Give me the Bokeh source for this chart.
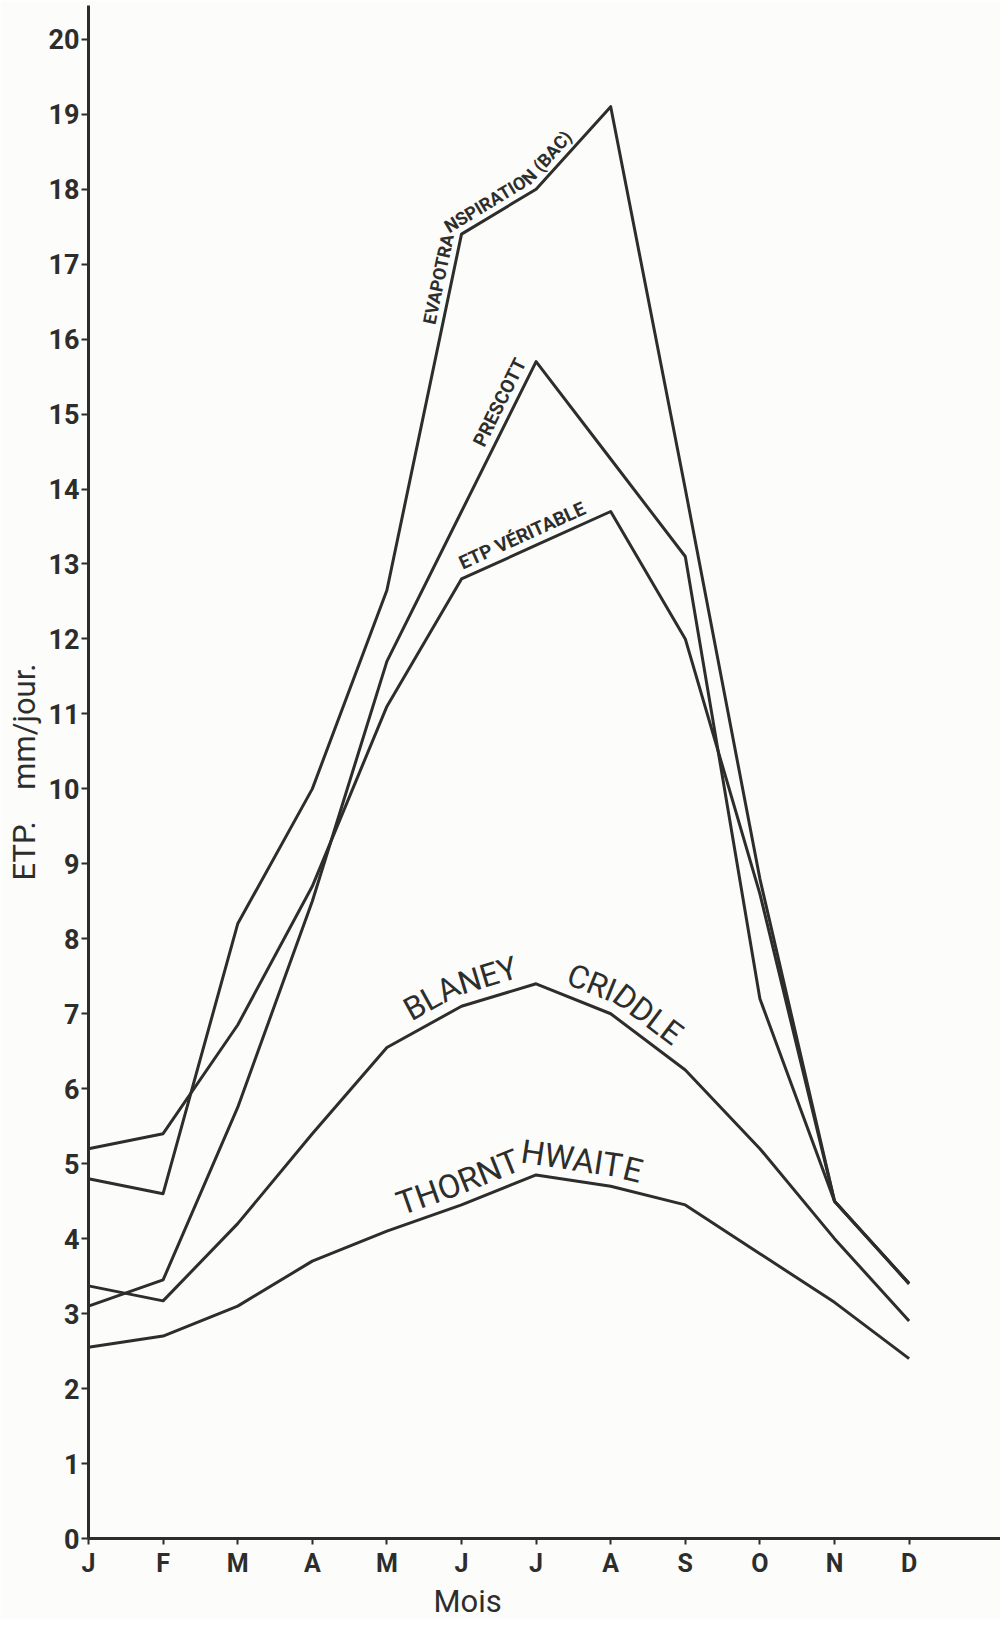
import math
from bokeh.plotting import figure
from bokeh.models import Range1d, FixedTicker, Title, ColumnDataSource
from bokeh.core.properties import value
from bokeh.embed import file_html
from bokeh.resources import INLINE

# ---------------- data ----------------
months = ["J", "F", "M", "A", "M", "J", "J", "A", "S", "O", "N", "D"]
month_index = list(range(12))
y_tick_values = list(range(0, 21))

evapotranspiration_bac = [4.8, 4.6, 8.2, 10.0, 12.65, 17.4, 18.0, 19.1, 14.0, 8.8, 4.5, 3.4]
prescott = [3.1, 3.45, 5.75, 8.5, 11.7, 13.7, 15.7, 14.4, 13.1, 7.2, 4.5, 3.4]
etp_veritable = [5.2, 5.4, 6.85, 8.7, 11.1, 12.8, 13.25, 13.7, 12.0, 8.6, 4.5, 3.4]
blaney_criddle = [3.37, 3.17, 4.2, 5.4, 6.55, 7.1, 7.4, 7.0, 6.25, 5.2, 4.0, 2.9]
thornthwaite = [2.55, 2.7, 3.1, 3.7, 4.1, 4.45, 4.85, 4.7, 4.45, 3.8, 3.15, 2.4]

series = [evapotranspiration_bac, prescott, etp_veritable, blaney_criddle, thornthwaite]

# ---------------- layout ----------------
W, H = 1000, 1619
B_LEFT, B_RIGHT, B_TOP, B_BOTTOM = 88, 0, 5, 79
FRAME_W = W - B_LEFT - B_RIGHT
FRAME_H = H - B_TOP - B_BOTTOM
PX_MONTH = 74.6
X_END = FRAME_W / PX_MONTH
Y_END = 20.45
PX_UNIT = FRAME_H / Y_END

INK = "#2d2e2c"
PAPER = "#fcfcfa"

p = figure(width=W, height=H,
           x_range=Range1d(0, X_END), y_range=Range1d(0, Y_END),
           output_backend="svg", toolbar_location=None,
           min_border_left=B_LEFT, min_border_right=B_RIGHT,
           min_border_top=B_TOP, min_border_bottom=B_BOTTOM)
p.background_fill_color = PAPER
p.border_fill_color = PAPER
p.outline_line_color = None
p.xgrid.visible = False
p.ygrid.visible = False

# x axis
xa = p.xaxis[0]
xa.ticker = FixedTicker(ticks=month_index)
xa.major_label_overrides = {i: m for i, m in zip(month_index, months)}
xa.axis_line_width = 3
xa.axis_line_color = INK
xa.major_tick_line_color = INK
xa.major_tick_line_width = 2
xa.major_tick_in = 0
xa.major_tick_out = 6
xa.minor_tick_line_color = None
xa.major_label_standoff = 4
xa.major_label_text_font = "Roboto"
xa.major_label_text_font_style = "bold"
xa.major_label_text_font_size = "25px"
xa.major_label_text_color = INK

# x title "Mois", left of the frame centre as in the original
p.add_layout(Title(text="Mois", align="left", offset=345, standoff=0,
                   text_font="Roboto", text_font_style="normal",
                   text_font_size="31px", text_color=INK), "below")

# y axis
ya = p.yaxis[0]
ya.ticker = FixedTicker(ticks=y_tick_values)
ya.axis_line_width = 3
ya.axis_line_color = INK
ya.major_tick_line_color = INK
ya.major_tick_line_width = 2
ya.major_tick_in = 0
ya.major_tick_out = 7
ya.minor_tick_line_color = None
ya.major_label_standoff = 2
ya.major_label_text_font = "Roboto"
ya.major_label_text_font_style = "bold"
ya.major_label_text_font_size = "27px"
ya.major_label_text_color = INK
ya.axis_label = "ETP.\u2003mm/jour."
ya.axis_label_text_font = "Roboto"
ya.axis_label_text_font_style = "normal"
ya.axis_label_text_font_size = "31px"
ya.axis_label_text_color = INK
ya.axis_label_standoff = 3

# curves
for vals in series:
    p.line(month_index, vals, line_width=3, line_color=INK, line_join="round")

# ---------------- curved labels along the curves ----------------
W_NORMAL = {'A': .652, 'B': .622, 'C': .652, 'D': .655, 'E': .568, 'F': .553, 'G': .682,
            'H': .713, 'I': .272, 'J': .552, 'K': .627, 'L': .539, 'M': .873, 'N': .713,
            'O': .688, 'P': .632, 'R': .616, 'S': .593, 'T': .596, 'U': .648, 'V': .636,
            'W': .887, 'Y': .601, ' ': .248, '(': .342, ')': .348, 'É': .568, '.': .263}
W_BOLD = {'A': .677, 'B': .628, 'C': .654, 'D': .654, 'E': .567, 'I': .288, 'L': .545,
          'N': .716, 'O': .691, 'P': .636, 'R': .630, 'S': .613, 'T': .614, 'V': .660,
          'É': .567, ' ': .248, '(': .344, ')': .348}


def curved_label(vals, text, seg, t, size, offset, bold):
    pts = [(i * PX_MONTH, v * PX_UNIT) for i, v in zip(month_index, vals)]
    segs = []
    cum = 0.0
    for k in range(len(pts) - 1):
        (x0, y0), (x1, y1) = pts[k], pts[k + 1]
        L = math.hypot(x1 - x0, y1 - y0)
        segs.append((cum, L, x0, y0, (x1 - x0) / L, (y1 - y0) / L))
        cum += L
    table = W_BOLD if bold else W_NORMAL
    d_mid = offset + 0.36 * size
    s = segs[seg][0] + t * segs[seg][1]
    groups = []
    for ch in text:
        w = table.get(ch, .62) * size
        mid = s + w / 2
        k = len(segs) - 1
        for j, sg in enumerate(segs):
            if sg[0] <= mid < sg[0] + sg[1]:
                k = j
                break
        if groups and groups[-1][0] == k:
            groups[-1][1] += ch
        else:
            if groups:
                kp = groups[-1][0]
                a_prev = math.atan2(segs[kp][5], segs[kp][4])
                a_new = math.atan2(segs[k][5], segs[k][4])
                s -= 2 * d_mid * math.tan((a_prev - a_new) / 2)
            groups.append([k, ch, s])
        s += w
    xs, ys, txt, ang = [], [], [], []
    for k, string, s0 in groups:
        while string.startswith(" "):
            s0 += table[' '] * size
            string = string[1:]
        string = string.rstrip()
        if not string:
            continue
        c0, L, x0, y0, ux, uy = segs[k]
        d = s0 - c0
        X = x0 + ux * d - uy * offset
        Y = y0 + uy * d + ux * offset
        xs.append(X / PX_MONTH)
        ys.append(Y / PX_UNIT)
        txt.append(string)
        ang.append(math.atan2(uy, ux))
    src = ColumnDataSource(dict(x=xs, y=ys, text=txt, angle=ang))
    p.text(x="x", y="y", text="text", angle="angle", source=src,
           text_font=value("Roboto"), text_font_size=f"{size}px",
           text_font_style="bold" if bold else "normal",
           text_align="left", text_baseline="bottom", text_color=INK)


curved_label(evapotranspiration_bac, "EVAPOTRANSPIRATION (BAC)", 4, 0.74, 18, 3, True)
curved_label(prescott, "PRESCOTT", 5, 0.40, 19, 3, True)
curved_label(etp_veritable, "ETP VÉRITABLE", 5, 0.06, 19, 3, True)
curved_label(blaney_criddle, "BLANEY", 4, 0.40, 32, 3, False)
curved_label(blaney_criddle, "CRIDDLE", 6, 0.33, 32, 3, False)
curved_label(thornthwaite, "THORNTHWAITE", 4, 0.24, 33, 2, False)

open("out.html", "w").write(file_html(p, INLINE))
